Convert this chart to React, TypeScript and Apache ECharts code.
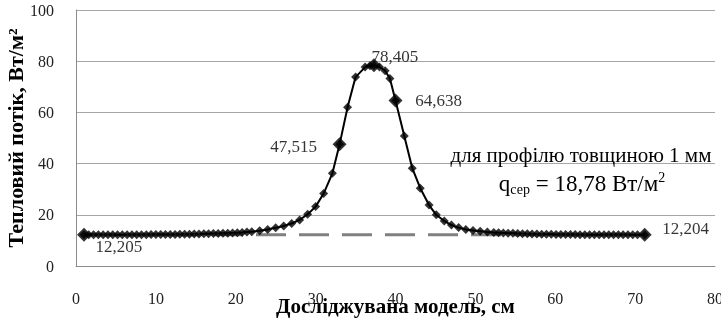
import React, { useEffect, useRef } from "react";
import * as echarts from "echarts";

// positions along the studied model, cm
const positions: number[] = [
  1, 1.6, 2.2, 2.8, 3.4, 4, 4.6, 5.2, 5.8, 6.4, 7, 7.6, 8.2, 8.8, 9.4, 10, 10.6, 11.2, 11.8, 12.4,
  13, 13.6, 14.2, 14.8, 15.4, 16, 16.6, 17.2, 17.8, 18.4, 19, 19.6, 20.2, 20.8, 21.4,
  22, 23, 24, 25, 26, 27, 28, 29, 30, 31, 32.1, 33, 34, 35, 36.2, 36.8, 37.3, 38, 38.7, 39.3, 40,
  41.1, 42.1, 43.1, 44.2, 45.1, 46.1, 47, 47.9, 48.8, 49.7, 50.6, 51.5, 52.3,
  52.9, 53.5, 54.1, 54.7, 55.3, 55.9, 56.5, 57.1, 57.7, 58.3, 58.9, 59.5, 60.1, 60.7, 61.3, 61.9,
  62.5, 63.1, 63.7, 64.3, 64.9, 65.5, 66.1, 66.7, 67.3, 67.9, 68.5, 69.1, 69.7, 70.3, 71.2,
];
// heat flux, W/m2
const heatFlux: number[] = [
  12.205, 12.2, 12.2, 12.2, 12.2, 12.2, 12.2, 12.2, 12.2, 12.2, 12.2, 12.25, 12.25, 12.25, 12.3, 12.3, 12.3, 12.3, 12.35, 12.35,
  12.4, 12.4, 12.45, 12.5, 12.5, 12.55, 12.6, 12.65, 12.7, 12.75, 12.8, 12.9, 13.0, 13.1, 13.25,
  13.4, 13.8, 14.3, 14.9, 15.6, 16.6, 18.0, 20.2, 23.2, 28.3, 36.2, 47.515, 62.0, 73.8, 77.7, 78.2, 78.405, 77.7, 76.3, 73.2, 64.638,
  50.8, 38.2, 30.4, 23.8, 20.0, 17.6, 16.0, 15.0, 14.3, 13.9, 13.6, 13.3, 13.1,
  13.0, 12.9, 12.8, 12.75, 12.7, 12.6, 12.55, 12.5, 12.5, 12.45, 12.4, 12.4, 12.35, 12.35, 12.3, 12.3,
  12.3, 12.25, 12.25, 12.25, 12.2, 12.2, 12.2, 12.2, 12.2, 12.2, 12.2, 12.2, 12.2, 12.2, 12.204,
];
// dashed baseline
const baselineX: number[] = [1, 71.2];
const baselineY: number[] = [12.2, 12.2];
// labelled points
const labelledX: number[] = [1, 33, 37.3, 40, 71.2];
const labelTexts: string[] = ["12,205", "47,515", "78,405", "64,638", "12,204"];
const labelOffsets: number[][] = [[35, 12], [-46, 2], [21, -9], [43, 0], [41, -6]];

const xTicks = { min: 0, max: 80, interval: 10 };
const yTicks = { min: 0, max: 100, interval: 20 };

const FONT = "'Liberation Serif', 'Times New Roman', serif";

export default function App() {
  const ref = useRef<HTMLDivElement>(null);
  useEffect(() => {
    if (!ref.current) return;
    const chart = echarts.init(ref.current, undefined, { renderer: "svg" });
    const mainData = positions.map((x, i) => [x, heatFlux[i]]);
    const labelled = labelledX.map((x, i) => {
      const idx = positions.indexOf(x);
      return {
        value: [x, heatFlux[idx]],
        label: {
          show: true,
          position: "inside",
          offset: labelOffsets[i],
          formatter: labelTexts[i],
          color: "#000",
          textBorderWidth: 0,
          fontSize: 17,
          fontFamily: FONT,
        },
      };
    });
    chart.setOption({
      animation: false,
      grid: { left: 76, right: 6, top: 10, bottom: 54, outerBoundsMode: "none", containLabel: false },
      xAxis: {
        type: "value",
        ...xTicks,
        name: "Досліджувана модель, см",
        nameLocation: "middle",
        nameGap: 29,
        nameMoveOverlap: false,
        nameTextStyle: { fontFamily: FONT, fontSize: 21, fontWeight: "bold", color: "#000" },
        axisLine: { show: true, lineStyle: { color: "#8c8c8c", width: 1 } },
        axisTick: { show: false },
        splitLine: { show: false },
        axisLabel: { fontFamily: FONT, fontSize: 16, color: "#222", margin: 24 },
      },
      yAxis: {
        type: "value",
        ...yTicks,
        name: "Тепловий потік, Вт/м²",
        nameLocation: "middle",
        nameGap: 50,
        nameMoveOverlap: false,
        nameTextStyle: { fontFamily: FONT, fontSize: 22, fontWeight: "bold", color: "#000" },
        axisLine: { show: true, lineStyle: { color: "#8c8c8c", width: 1 } },
        axisTick: { show: false },
        splitLine: { show: true, lineStyle: { color: "#a6a6a6", width: 1 } },
        axisLabel: { fontFamily: FONT, fontSize: 16, color: "#222", margin: 22 },
      },
      series: [
        {
          type: "line",
          data: mainData,
          showSymbol: false,
          symbol: "none",
          lineStyle: { color: "#000", width: 2 },
          z: 2,
        },
        {
          type: "line",
          data: baselineX.map((x, i) => [x, baselineY[i]]),
          symbol: "none",
          lineStyle: { color: "#808080", width: 3, type: [30, 13] },
          z: 3,
        },
        {
          type: "scatter",
          data: mainData,
          symbol: "diamond",
          symbolSize: 9,
          itemStyle: { color: "#000" },
          z: 4,
        },
        {
          type: "scatter",
          data: labelled,
          symbol: "diamond",
          symbolSize: 14,
          itemStyle: { color: "#000" },
          z: 5,
        },
      ],
      graphic: [
        {
          type: "text",
          x: 581,
          y: 155,
          z: 10,
          style: {
            text: "для профілю товщиною 1 мм",
            fontFamily: FONT,
            fontSize: 21,
            fill: "#000",
            align: "center",
            verticalAlign: "middle",
          },
        },
        {
          type: "text",
          x: 582,
          y: 183,
          z: 10,
          style: {
            text: "{a|q}{b|сер}{a| = 18,78 Вт/м}{c|2}",
            fontFamily: FONT,
            fill: "#000",
            align: "center",
            verticalAlign: "middle",
            rich: {
              a: { fontFamily: FONT, fontSize: 23, fill: "#000", lineHeight: 26 },
              b: { fontFamily: FONT, fontSize: 14, fill: "#000", lineHeight: 26, verticalAlign: "bottom", padding: [10, 0, 0, 0] },
              c: { fontFamily: FONT, fontSize: 14, fill: "#000", lineHeight: 26, verticalAlign: "top", padding: [0, 0, 10, 0] },
            },
          },
        },
      ],
    });
    return () => chart.dispose();
  }, []);
  return <div ref={ref} style={{ position: "fixed", left: 0, top: 0, width: 721, height: 320 }} />;
}
